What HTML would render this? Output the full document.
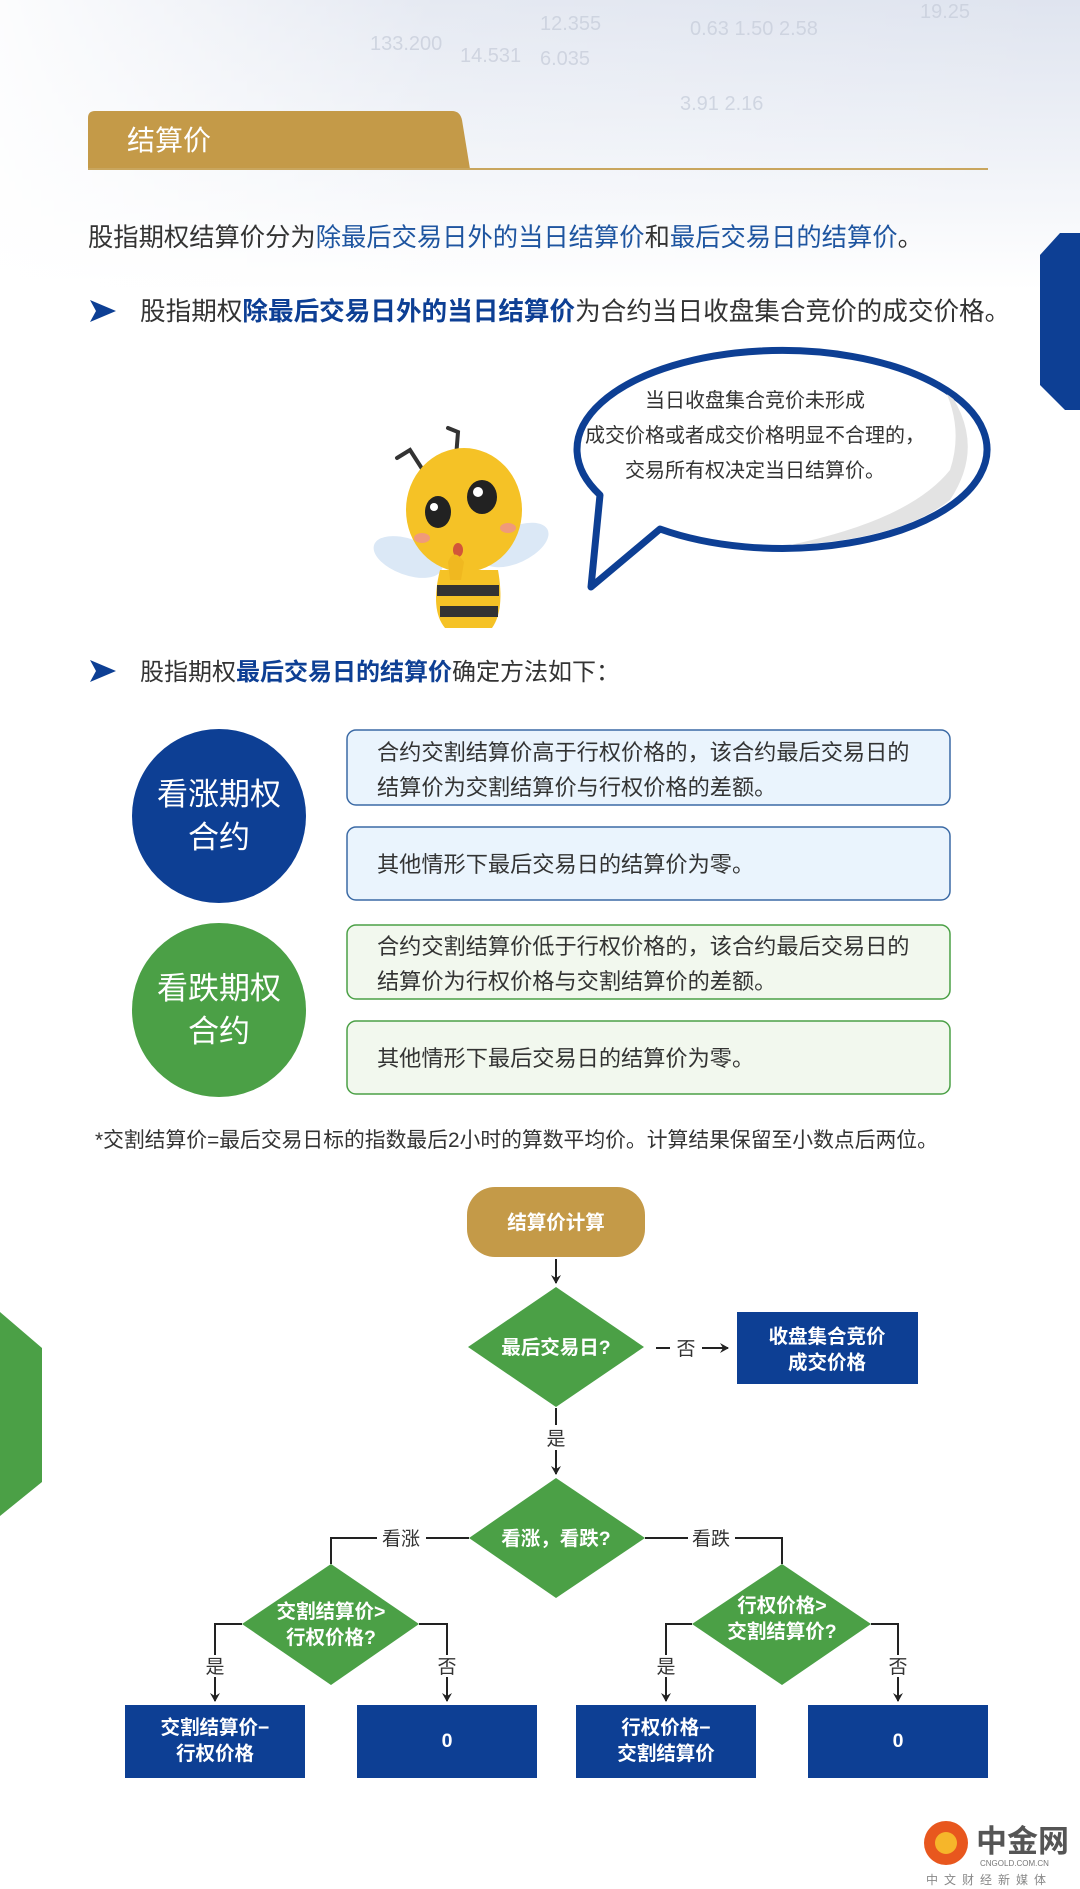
<!DOCTYPE html>
<html><head><meta charset="utf-8">
<style>
html,body{margin:0;padding:0;background:#fff;}
svg{display:block;}
text{font-family:"Liberation Sans","Noto Sans CJK SC",sans-serif;}
</style></head>
<body>
<svg width="1080" height="1889" viewBox="0 0 1080 1889" xmlns="http://www.w3.org/2000/svg">
<defs>
<linearGradient id="bg" x1="0" y1="0" x2="0" y2="1">
<stop offset="0" stop-color="#dfe4ef"/>
<stop offset="0.5" stop-color="#eef1f7"/>
<stop offset="1" stop-color="#ffffff"/>
</linearGradient>
<linearGradient id="bgx" x1="0" y1="0" x2="1" y2="0">
<stop offset="0" stop-color="#fff" stop-opacity="0.9"/>
<stop offset="0.4" stop-color="#fff" stop-opacity="0.2"/>
<stop offset="1" stop-color="#fff" stop-opacity="0"/>
</linearGradient>
<marker id="ah" markerWidth="10" markerHeight="10" refX="8" refY="5" orient="auto" markerUnits="userSpaceOnUse">
<path d="M0,0 L9,5 L0,10 L3,5 Z" fill="#222"/>
</marker>
<clipPath id="bub"><ellipse cx="781" cy="449" rx="202" ry="96"/></clipPath>
</defs>
<rect width="1080" height="1889" fill="#fff"/>
<rect width="1080" height="290" fill="url(#bg)"/>
<rect width="1080" height="290" fill="url(#bgx)"/>
<g fill="#c9cfdc" font-size="20" opacity="0.8">
<text x="540" y="30">12.355</text><text x="690" y="35">0.63 1.50 2.58</text>
<text x="370" y="50">133.200</text><text x="540" y="65">6.035</text><text x="460" y="62">14.531</text>
<text x="680" y="110">3.91 2.16</text><text x="920" y="18">19.25</text>
</g>
<!-- header -->
<path d="M88,169 L88,118 Q88,111 95,111 L452,111 Q460,111 462,120 L470,169 Z" fill="#c49a48"/>
<line x1="88" y1="169" x2="988" y2="169" stroke="#c9a65e" stroke-width="2"/>
<text x="127" y="150" font-size="28" fill="#fff">结算价</text>
<!-- right blue tab -->
<path d="M1080,233 L1060,233 L1040,255 L1040,385 L1065,410 L1080,410 Z" fill="#0d3f94"/>
<!-- left green tab -->
<path d="M0,1312 L42,1348 L42,1482 L0,1516 Z" fill="#4ba046"/>
<!-- text lines -->
<text x="88" y="246" font-size="25.3" fill="#333">股指期权结算价分为<tspan fill="#1e55a0">除最后交易日外的当日结算价</tspan>和<tspan fill="#1e55a0">最后交易日的结算价</tspan>。</text>
<path d="M90,300 L116,311 L90,322 L96,311 Z" fill="#0d3f94"/>
<text x="140" y="320" font-size="25.6" fill="#333">股指期权<tspan fill="#0d3f94" font-weight="bold">除最后交易日外的当日结算价</tspan>为合约当日收盘集合竞价的成交价格。</text>
<!-- speech bubble -->
<path d="M660,529 A205 99 0 1 0 600,495 L591,587 Z" fill="#fff" stroke="#0d3f94" stroke-width="7" stroke-linejoin="round"/>
<g clip-path="url(#bub)">
<path d="M940,380 Q990,440 950,500 Q900,540 790,545 Q910,520 950,470 Q965,425 940,380 Z" fill="#e3e3e3"/>
</g>
<g font-size="20" fill="#333" text-anchor="middle">
<text x="755" y="407">当日收盘集合竞价未形成</text>
<text x="755" y="442">成交价格或者成交价格明显不合理的，</text>
<text x="755" y="477">交易所有权决定当日结算价。</text>
</g>
<!-- bee -->
<g>
<ellipse cx="408" cy="557" rx="36" ry="18" fill="#dbe8f6" transform="rotate(20 408 557)"/>
<ellipse cx="515" cy="545" rx="36" ry="18" fill="#dbe8f6" transform="rotate(-25 515 545)"/>
<path d="M397,458 L410,450 L428,478 M455,470 L458,432 L448,428" stroke="#333" stroke-width="4" fill="none" stroke-linecap="round"/>
<path d="M440,570 Q430,610 445,628 L492,628 Q505,610 498,570 Z" fill="#f5c226"/>
<rect x="437" y="585" width="62" height="11" fill="#333"/>
<rect x="440" y="606" width="58" height="11" fill="#333"/>
<ellipse cx="464" cy="510" rx="58" ry="62" fill="#f5c226"/>
<ellipse cx="438" cy="512" rx="13" ry="16" fill="#222"/>
<ellipse cx="482" cy="497" rx="15" ry="17" fill="#222"/>
<circle cx="434" cy="507" r="4" fill="#fff"/><circle cx="478" cy="492" r="5" fill="#fff"/>
<ellipse cx="422" cy="538" rx="8" ry="5" fill="#f09a7a"/>
<ellipse cx="508" cy="528" rx="8" ry="5" fill="#f09a7a"/>
<ellipse cx="458" cy="550" rx="5" ry="7" fill="#d2553a"/>
<path d="M448,562 Q454,547 464,562 L461,580 L450,580 Z" fill="#f0b820"/>
</g>
<!-- line 3 -->
<path d="M90,660 L116,671 L90,682 L96,671 Z" fill="#0d3f94"/>
<text x="140" y="680" font-size="24" fill="#333">股指期权<tspan fill="#0d3f94" font-weight="bold">最后交易日的结算价</tspan>确定方法如下：</text>
<!-- circles -->
<circle cx="219" cy="816" r="87" fill="#0d3f94"/>
<circle cx="219" cy="1010" r="87" fill="#4ba046"/>
<g font-size="31" fill="#fff" text-anchor="middle">
<text x="219" y="805">看涨期权</text><text x="219" y="848">合约</text>
<text x="219" y="999">看跌期权</text><text x="219" y="1042">合约</text>
</g>
<!-- boxes -->
<rect x="347" y="730" width="603" height="75" rx="9" fill="#eaf4fd" stroke="#3b6aa5" stroke-width="1.5"/>
<rect x="347" y="827" width="603" height="73" rx="9" fill="#eaf4fd" stroke="#3b6aa5" stroke-width="1.5"/>
<rect x="347" y="925" width="603" height="74" rx="9" fill="#f2f8ee" stroke="#4ba046" stroke-width="1.5"/>
<rect x="347" y="1021" width="603" height="73" rx="9" fill="#f2f8ee" stroke="#4ba046" stroke-width="1.5"/>
<g font-size="22.2" fill="#333">
<text x="377" y="760">合约交割结算价高于行权价格的，该合约最后交易日的</text>
<text x="377" y="795">结算价为交割结算价与行权价格的差额。</text>
<text x="377" y="872">其他情形下最后交易日的结算价为零。</text>
<text x="377" y="954">合约交割结算价低于行权价格的，该合约最后交易日的</text>
<text x="377" y="989">结算价为行权价格与交割结算价的差额。</text>
<text x="377" y="1066">其他情形下最后交易日的结算价为零。</text>
</g>
<text x="95" y="1147" font-size="20.8" fill="#333">*交割结算价=最后交易日标的指数最后2小时的算数平均价。计算结果保留至小数点后两位。</text>
<!-- flowchart -->
<g stroke="#222" stroke-width="2" fill="none">
<line x1="556" y1="1259" x2="556" y2="1283" marker-end="url(#ah)"/>
<line x1="656" y1="1348" x2="670" y2="1348"/>
<line x1="702" y1="1348" x2="728" y2="1348" marker-end="url(#ah)"/>
<line x1="556" y1="1408" x2="556" y2="1425"/>
<line x1="556" y1="1450" x2="556" y2="1474" marker-end="url(#ah)"/>
<path d="M469,1538 L426,1538 M377,1538 L331,1538 L331,1564"/>
<path d="M645,1538 L688,1538 M735,1538 L782,1538 L782,1564"/>
<path d="M242,1624 L215,1624 L215,1655"/><line x1="215" y1="1677" x2="215" y2="1701" marker-end="url(#ah)"/>
<path d="M419,1624 L447,1624 L447,1655"/><line x1="447" y1="1677" x2="447" y2="1701" marker-end="url(#ah)"/>
<path d="M692,1624 L666,1624 L666,1655"/><line x1="666" y1="1677" x2="666" y2="1701" marker-end="url(#ah)"/>
<path d="M871,1624 L898,1624 L898,1655"/><line x1="898" y1="1677" x2="898" y2="1701" marker-end="url(#ah)"/>
</g>
<rect x="467" y="1187" width="178" height="70" rx="28" fill="#c49a48"/>
<polygon points="556,1287 644,1347 556,1407 468,1347" fill="#4ba046"/>
<polygon points="556,1478 645,1538 556,1598 469,1538" fill="#4ba046"/>
<polygon points="331,1564 419,1624 331,1685 242,1624" fill="#4ba046"/>
<polygon points="782,1564 871,1624 782,1685 692,1624" fill="#4ba046"/>
<rect x="737" y="1312" width="181" height="72" fill="#0d3f94"/>
<rect x="125" y="1705" width="180" height="73" fill="#0d3f94"/>
<rect x="357" y="1705" width="180" height="73" fill="#0d3f94"/>
<rect x="576" y="1705" width="180" height="73" fill="#0d3f94"/>
<rect x="808" y="1705" width="180" height="73" fill="#0d3f94"/>
<g font-size="19.5" fill="#fff" text-anchor="middle" font-weight="bold">
<text x="556" y="1229">结算价计算</text>
<text x="556" y="1354">最后交易日?</text>
<text x="556" y="1545">看涨，看跌?</text>
<text x="331" y="1618">交割结算价&gt;</text><text x="331" y="1644">行权价格?</text>
<text x="782" y="1612">行权价格&gt;</text><text x="782" y="1638">交割结算价?</text>
<text x="827" y="1343">收盘集合竞价</text><text x="827" y="1369">成交价格</text>
<text x="215" y="1734">交割结算价−</text><text x="215" y="1760">行权价格</text>
<text x="447" y="1747">0</text>
<text x="666" y="1734">行权价格−</text><text x="666" y="1760">交割结算价</text>
<text x="898" y="1747">0</text>
</g>
<g font-size="19" fill="#333" text-anchor="middle">
<text x="686" y="1355">否</text>
<text x="556" y="1445">是</text>
<text x="401" y="1545">看涨</text>
<text x="711" y="1545">看跌</text>
<text x="215" y="1673">是</text><text x="447" y="1673">否</text>
<text x="666" y="1673">是</text><text x="898" y="1673">否</text>
</g>
<!-- logo -->
<circle cx="946" cy="1843" r="22" fill="#e8571e"/>
<circle cx="946" cy="1843" r="11" fill="#f6b62a"/>
<text x="976" y="1852" font-size="31" fill="#555" font-weight="bold">中金网</text>
<text x="980" y="1866" font-size="8" fill="#777">CNGOLD.COM.CN</text>
<text x="926" y="1884" font-size="12" fill="#888" letter-spacing="6">中文财经新媒体</text>
</svg>
</body></html>
